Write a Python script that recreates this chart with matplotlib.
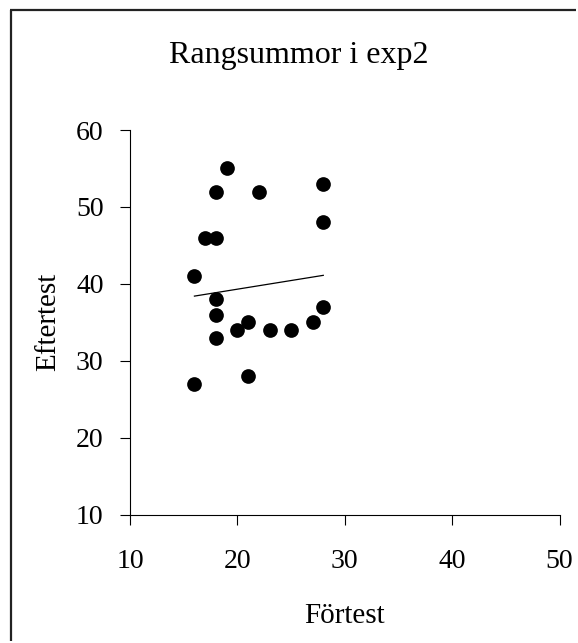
import matplotlib
matplotlib.use("Agg")
import matplotlib.pyplot as plt
from matplotlib.lines import Line2D

fortest = [19, 18, 22, 28, 28, 17, 18, 16, 18, 18, 18, 20, 21, 23, 25, 27, 28, 21, 16]
eftertest = [55, 52, 52, 53, 48, 46, 46, 41, 38, 36, 33, 34, 35, 34, 34, 35, 37, 28, 27]
trend_x = [16, 28]
trend_y = [38.4, 41.1]
xticks = [10, 20, 30, 40, 50]
yticks = [10, 20, 30, 40, 50, 60]

W, H = 578, 643
plt.rcParams['font.family'] = ['Liberation Serif', 'DejaVu Serif']
fig = plt.figure(figsize=(W / 100, H / 100), dpi=100)

# border: only top and left edges are inside the image
bx, by = 11 / W, 1 - 9.5 / H
fig.add_artist(Line2D([bx, bx], [2 / H, by], transform=fig.transFigure,
                      color='#222222', linewidth=1.6, solid_capstyle='butt'))
fig.add_artist(Line2D([bx - 0.8 / W, 1 - 2 / W], [by, by], transform=fig.transFigure,
                      color='#222222', linewidth=1.6, solid_capstyle='butt'))

ax = fig.add_axes([130 / W, 1 - 514.5 / H, (559.5 - 130) / W, (514.5 - 130) / H])
ax.scatter(fortest, eftertest, s=112, color='black', zorder=3, linewidths=0)
ax.plot(trend_x, trend_y, color='black', linewidth=0.9)

ax.set_xlim(10, 50)
ax.set_ylim(10, 60)
ax.set_xticks(xticks)
ax.set_yticks(yticks)
for s in ['top', 'right']:
    ax.spines[s].set_visible(False)
for s in ['left', 'bottom']:
    ax.spines[s].set_linewidth(0.8)
ax.tick_params(direction='out', length=7, width=0.8, labelsize=20, pad=12)
ax.tick_params(axis='x', pad=18)

ax.set_xlabel('Förtest', fontsize=21)
ax.xaxis.set_label_coords(0.5, -0.229)
ax.set_ylabel('Eftertest', fontsize=21)
ax.yaxis.set_label_coords(-0.16, 0.5)

fig.text(299 / W, 1 - 63 / H, 'Rangsummor i exp2', ha='center', va='baseline', fontsize=23)

fig.savefig('out.png', dpi=100)
